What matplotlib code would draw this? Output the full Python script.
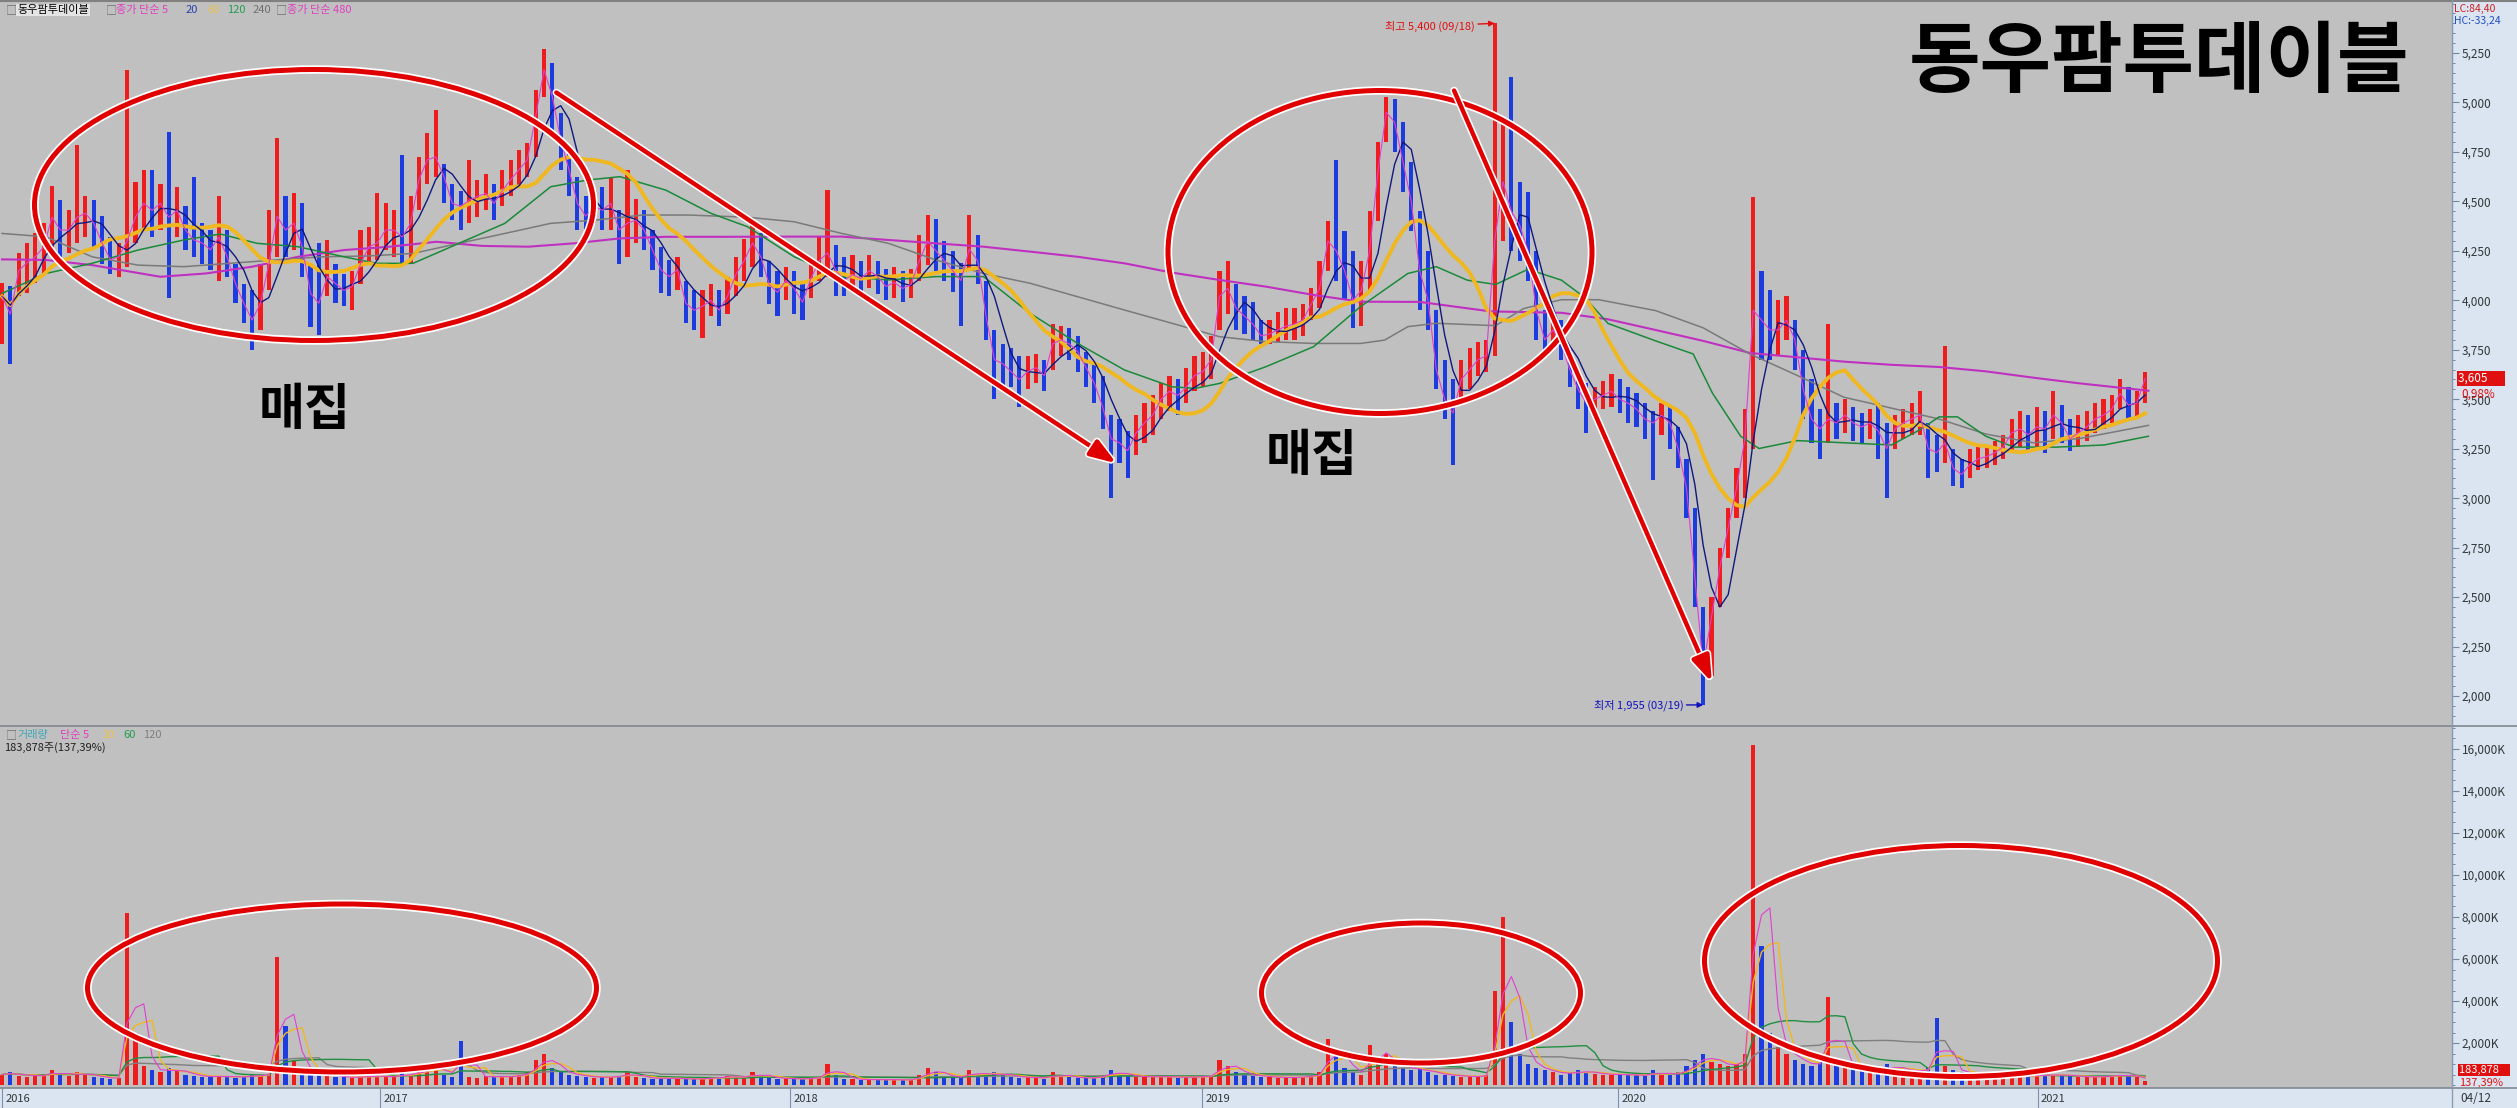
import numpy as np
import pandas as pd
import matplotlib
matplotlib.use("Agg")
import matplotlib.pyplot as plt
from matplotlib.patches import Ellipse, FancyArrowPatch, Rectangle
from matplotlib.lines import Line2D
import matplotlib.patheffects as pe
import matplotlib.transforms as mtrans
from matplotlib.ticker import MultipleLocator, FixedLocator, FuncFormatter

plt.rcParams['font.family'] = ['Noto Sans CJK KR', 'DejaVu Sans']

# ---------------- data (weekly, index = week number from start) ----------------
close = [
    4020, 3930, 4150, 4190, 4220, 4270, 4420, 4355, 4355, 4420,
    4440, 4390, 4290, 4205, 4220, 4300, 4420, 4490, 4455, 4490,
    4420, 4455, 4355, 4305, 4290, 4255, 4320, 4220, 4085, 3985,
    3900, 3985, 4185, 4425, 4355, 4390, 4270, 4035, 3985, 4120,
    4085, 4050, 4070, 4185, 4270, 4290, 4355, 4355, 4320, 4390,
    4610, 4710, 4725, 4625, 4490, 4475, 4505, 4525, 4540, 4490,
    4555, 4610, 4660, 4710, 4930, 5165, 5030, 4810, 4660, 4490,
    4425, 4475, 4455, 4490, 4355, 4390, 4405, 4355, 4255, 4155,
    4120, 4155, 3985, 3950, 3970, 4000, 3950, 4020, 4130, 4200,
    4290, 4220, 4080, 4040, 4100, 4060, 3990, 4110, 4200, 4240,
    4150, 4100, 4130, 4110, 4150, 4120, 4070, 4090, 4060, 4080,
    4200, 4300, 4250, 4200, 4150, 4100, 4260, 4200, 3920, 3700,
    3680, 3640, 3600, 3640, 3660, 3620, 3780, 3800, 3780, 3740,
    3660, 3580, 3460, 3300, 3280, 3240, 3330, 3380, 3420, 3500,
    3540, 3520, 3560, 3620, 3640, 3700, 4020, 4060, 3960, 3920,
    3880, 3820, 3830, 3850, 3870, 3880, 3900, 3980, 4060, 4300,
    4250, 4150, 4000, 4050, 4250, 4650, 4950, 4900, 4700, 4500,
    4150, 4000, 3650, 3500, 3430, 3600, 3650, 3700, 3720, 4300,
    4600, 4450, 4380, 4250, 3950, 3800, 3850, 3780, 3650, 3550,
    3480, 3500, 3520, 3540, 3500, 3480, 3450, 3400, 3380, 3420,
    3380, 3250, 3050, 2600, 2150, 2400, 2650, 2850, 3050, 3300,
    3950, 3900, 3850, 3850, 3900, 3800, 3550, 3400, 3350, 3400,
    3380, 3420, 3380, 3360, 3380, 3340, 3250, 3350, 3380, 3400,
    3420, 3250, 3230, 3280, 3150, 3120, 3170, 3200, 3210, 3230,
    3260, 3330, 3350, 3320, 3360, 3350, 3420, 3380, 3300, 3330,
    3360, 3400, 3420, 3450, 3530, 3470, 3480, 3605]
high = [
    4090, 4070, 4240, 4290, 4340, 4390, 4580, 4505, 4455, 4785,
    4525, 4505, 4425, 4320, 4290, 5165, 4600, 4660, 4660, 4590,
    4850, 4575, 4475, 4625, 4390, 4355, 4525, 4355, 4185, 4085,
    4050, 4185, 4455, 4820, 4525, 4540, 4490, 4185, 4290, 4305,
    4185, 4135, 4150, 4355, 4370, 4540, 4490, 4455, 4735, 4525,
    4725, 4845, 4960, 4690, 4590, 4555, 4710, 4610, 4640, 4590,
    4660, 4710, 4760, 4795, 5065, 5270, 5200, 4945, 4775, 4625,
    4525, 4555, 4575, 4625, 4455, 4660, 4510, 4455, 4355, 4270,
    4205, 4220, 4100, 4050, 4050, 4085, 4050, 4120, 4220, 4310,
    4390, 4340, 4200, 4150, 4170, 4150, 4090, 4200, 4320, 4560,
    4280, 4220, 4230, 4200, 4230, 4200, 4160, 4170, 4150, 4160,
    4330, 4430, 4410, 4300, 4250, 4190, 4430, 4330, 4100, 3850,
    3780, 3760, 3720, 3720, 3730, 3700, 3880, 3870, 3860, 3820,
    3740, 3680, 3620, 3420, 3400, 3340, 3420, 3480, 3520, 3580,
    3620, 3600, 3660, 3720, 3740, 3820, 4150, 4200, 4080, 4020,
    3990, 3900, 3900, 3940, 3960, 3960, 3980, 4060, 4200, 4400,
    4710, 4350, 4250, 4200, 4450, 4800, 5030, 5020, 4900, 4700,
    4450, 4250, 3950, 3700, 3600, 3700, 3760, 3790, 3800, 5400,
    4900, 5130, 4600, 4550, 4250, 3950, 3950, 3900, 3750, 3650,
    3580, 3560, 3590, 3630, 3600, 3560, 3530, 3480, 3440, 3480,
    3460, 3360, 3200, 2950, 2450, 2500, 2750, 2950, 3150, 3450,
    4520, 4150, 4050, 4000, 4020, 3900, 3750, 3600, 3450, 3880,
    3480, 3500, 3460, 3430, 3450, 3480, 3380, 3420, 3450, 3480,
    3540, 3380, 3320, 3770, 3250, 3200, 3250, 3260, 3270, 3290,
    3320, 3400, 3440, 3420, 3460, 3440, 3540, 3470, 3400, 3420,
    3440, 3480, 3500, 3520, 3600, 3560, 3540, 3640]
low = [
    3780, 3680, 4020, 4035, 4090, 4140, 4250, 4220, 4240, 4290,
    4320, 4270, 4185, 4135, 4120, 4170, 4290, 4355, 4320, 4355,
    4010, 4320, 4255, 4220, 4185, 4155, 4100, 4120, 3985, 3885,
    3750, 3850, 4050, 4220, 4220, 4255, 4120, 3865, 3825, 4020,
    3985, 3970, 3950, 4085, 4185, 4205, 4255, 4220, 4185, 4185,
    4455, 4590, 4625, 4490, 4405, 4355, 4390, 4420, 4455, 4405,
    4475, 4525, 4575, 4625, 4725, 5030, 4860, 4660, 4525, 4355,
    4340, 4390, 4355, 4355, 4185, 4220, 4290, 4255, 4155, 4035,
    4020, 4050, 3885, 3850, 3810, 3920, 3870, 3930, 4020, 4100,
    4170, 4120, 3980, 3920, 4000, 3930, 3900, 4010, 4100, 4120,
    4020, 4020, 4040, 4040, 4060, 4030, 4000, 4010, 3990, 4010,
    4100, 4180, 4150, 4100, 4040, 3870, 4150, 4080, 3800, 3500,
    3560, 3560, 3460, 3550, 3580, 3540, 3650, 3720, 3700, 3640,
    3560, 3480, 3350, 3000, 3180, 3100, 3220, 3280, 3320, 3400,
    3440, 3420, 3480, 3540, 3560, 3600, 3850, 3930, 3850, 3830,
    3800, 3780, 3780, 3790, 3800, 3800, 3820, 3900, 3960, 4150,
    4100, 4000, 3860, 3870, 4050, 4400, 4800, 4750, 4550, 4350,
    3950, 3850, 3550, 3400, 3170, 3480, 3550, 3620, 3640, 3720,
    4300, 4250, 4200, 4100, 3800, 3720, 3760, 3700, 3560, 3450,
    3330, 3430, 3450, 3460, 3430, 3380, 3360, 3300, 3090, 3320,
    3250, 3150, 2900, 2450, 1955, 2100, 2450, 2700, 2900, 3000,
    3250, 3700, 3700, 3720, 3800, 3650, 3400, 3280, 3200, 3280,
    3300, 3330, 3290, 3280, 3300, 3200, 3000, 3250, 3300, 3320,
    3320, 3100, 3130, 3180, 3060, 3050, 3100, 3140, 3150, 3170,
    3200, 3240, 3260, 3240, 3260, 3230, 3300, 3280, 3240, 3260,
    3290, 3330, 3350, 3380, 3450, 3400, 3400, 3480]
volume_k = [
    500, 600, 450, 400, 500, 450, 700, 500, 450, 600,
    500, 400, 350, 300, 350, 8200, 2500, 900, 700, 600,
    800, 700, 500, 450, 400, 380, 450, 400, 350, 420,
    480, 450, 520, 6100, 2800, 1200, 800, 500, 600, 450,
    400, 380, 350, 400, 450, 420, 380, 400, 600, 450,
    700, 800, 900, 500, 400, 2100, 400, 350, 450, 400,
    380, 420, 500, 600, 1200, 1500, 800, 600, 500, 450,
    400, 350, 380, 400, 450, 600, 380, 350, 300, 320,
    350, 300, 280, 300, 320, 350, 380, 420, 380, 350,
    600, 450, 350, 300, 320, 300, 280, 350, 400, 1000,
    500, 300, 280, 260, 250, 270, 260, 250, 240, 260,
    500, 800, 600, 400, 350, 400, 700, 500, 450, 600,
    500, 400, 350, 380, 350, 300, 600, 400, 380, 350,
    320, 350, 500, 700, 500, 450, 400, 380, 400, 420,
    380, 360, 380, 400, 420, 450, 1200, 900, 600, 500,
    450, 400, 380, 350, 360, 380, 400, 450, 600, 2200,
    1500, 800, 600, 500, 1900, 1200, 1500, 1000, 800, 700,
    800, 600, 500, 500, 450, 400, 400, 420, 500, 4500,
    8000, 3000, 1500, 1000, 800, 700, 600, 500, 600, 700,
    600, 550, 500, 500, 520, 480, 460, 450, 700, 500,
    480, 600, 900, 1200, 1500, 1100, 1000, 900, 1000, 1500,
    16200, 6600, 2500, 1800, 1500, 1200, 1000, 900, 1100, 4200,
    1100, 900, 800, 700, 650, 700, 1000, 800, 700, 650,
    700, 800, 3200, 900, 700, 600, 500, 450, 420, 400,
    380, 400, 420, 450, 500, 450, 480, 500, 420, 400,
    380, 400, 420, 450, 500, 420, 400, 184]

# long moving averages (week index, price)
ma120_x = [0, 5.3, 10.8, 16.3, 21.8, 26.2, 30.6, 35.5, 41.0, 44.9, 49.3, 54.8, 60.3, 65.8, 70.2,
           74.1, 79.6, 85.0, 89.4, 95.0, 100.7, 106.3, 112.0, 117.7, 123.3, 129.0, 134.6, 140.3,
           143.1, 146.0, 151.6, 157.3, 162.9, 168.6, 172.0, 175.7, 179.1, 183.0, 187.0, 189.8,
           192.6, 198.3, 202.8, 205.1, 208.5, 210.7, 215.3, 220.9, 226.6, 230.0, 232.3, 234.5,
           237.9, 241.3, 246.4, 252.1, 257.4]
ma120_y = [4035, 4136, 4187, 4254, 4305, 4335, 4288, 4271, 4220, 4187, 4187, 4288, 4389, 4574, 4608,
           4625, 4557, 4440, 4372, 4220, 4120, 4103, 4120, 4120, 3934, 3782, 3648, 3563,
           3555, 3580, 3665, 3766, 3968, 4136, 4170, 4102, 4080, 4157, 4102, 4014,
           3883, 3795, 3729, 3532, 3313, 3251, 3291, 3280, 3269, 3346, 3411, 3411,
           3313, 3258, 3258, 3269, 3313]
ma240_x = [0, 5.3, 10.8, 16.3, 21.8, 27.3, 32.8, 38.3, 43.8, 49.3, 54.8, 60.3, 65.8, 71.3, 76.8,
           82.3, 89.4, 95.0, 100.7, 106.3, 112.0, 117.7, 123.3, 129.0, 134.6, 140.3, 146.0, 151.6,
           157.3, 162.9, 165.8, 168.6, 172.0, 179.1, 182.5, 187.0, 191.5, 198.3, 204.0, 209.6,
           215.3, 220.9, 226.6, 232.3, 237.9, 243.6, 249.2, 257.4]
ma240_y = [4338, 4321, 4220, 4178, 4170, 4187, 4204, 4220, 4224, 4237, 4288, 4338, 4389, 4406, 4431,
           4431, 4420, 4397, 4338, 4288, 4204, 4136, 4086, 4018, 3951, 3884, 3816, 3791,
           3782, 3782, 3799, 3867, 3884, 3872, 3959, 4003, 4003, 3948, 3861, 3729,
           3620, 3510, 3455, 3400, 3324, 3280, 3302, 3368]
ma480_x = [0, 5.3, 10.8, 19.0, 24.5, 30.0, 35.5, 41.0, 46.5, 52.1, 57.6, 63.1, 68.6, 74.1, 79.6,
           86.1, 95.0, 100.7, 106.3, 112.0, 117.7, 123.3, 129.0, 134.6, 140.3, 146.0, 151.6, 157.3,
           162.9, 170.0, 178.5, 187.0, 192.6, 198.3, 204.0, 209.6, 215.3, 220.9, 226.6, 232.3,
           237.9, 243.6, 249.2, 257.4]
ma480_y = [4207, 4204, 4178, 4119, 4136, 4170, 4220, 4254, 4271, 4296, 4275, 4271, 4288, 4313, 4321,
           4321, 4322, 4322, 4305, 4288, 4271, 4246, 4220, 4187, 4140, 4103, 4069, 4027,
           3993, 3992, 3944, 3937, 3904, 3850, 3795, 3734, 3712, 3690, 3674, 3663,
           3641, 3609, 3580, 3543]

price_ticks = [2000, 2250, 2500, 2750, 3000, 3250, 3500, 3750, 4000, 4250, 4500, 4750, 5000, 5250]
volume_ticks_k = [2000, 4000, 6000, 8000, 10000, 12000, 14000, 16000]
year_pos = [0, 45.3, 94.5, 143.9, 193.8, 244.1]
year_labels = ['2016', '2017', '2018', '2019', '2020', '2021']
last_date = '04/12'
high_date, low_date = '09/18', '03/19'
title = '동우팜투데이블'
note = '매집'

# ---------------- layout ----------------
W, H = 2517, 1108
fig = plt.figure(figsize=(W / 100, H / 100), dpi=100)
fig.patch.set_facecolor('#c0c0c0')


def fx(x):
    return x / W


def fy(y):
    return 1 - y / H


BG = '#c0c0c0'
STRIP = '#dbe5f1'
RED = '#ee1c1c'
BLUE = '#1c3ce0'
XL = (-0.24, 293.8)

fig.add_artist(Rectangle((fx(2452), 0), 1 - fx(2452), 1, transform=fig.transFigure,
                         facecolor=STRIP, edgecolor='none', zorder=-5))

ax_p = fig.add_axes([0, fy(726), fx(2452), 724 / H])
ax_v = fig.add_axes([0, fy(1088), fx(2452), 361 / H])
ax_d = fig.add_axes([0, 0, fx(2452), 20 / H])

k = np.arange(len(close))
c = np.array(close, float)
hi = np.array(high, float)
lo = np.array(low, float)
vol = np.array(volume_k, float)
prev = np.r_[c[0], c[:-1]]
cols = np.where(c >= prev, RED, BLUE)

for ax in (ax_p, ax_v):
    ax.set_facecolor(BG)
    ax.set_xlim(*XL)
    ax.set_xticks([])
    for s in ('top', 'left', 'bottom'):
        ax.spines[s].set_visible(False)
    ax.spines['right'].set_color('#8a9ab0')
    ax.yaxis.tick_right()
    ax.tick_params(axis='y', which='major', direction='out', length=5, width=0.8,
                   color='#7888a0', labelsize=8.5, labelcolor='#303838', pad=2)
    ax.tick_params(axis='y', which='minor', direction='out', length=2.5, width=0.7,
                   color='#7888a0')

# ---------------- price panel ----------------
ax_p.set_ylim(1848.5, 5507.8)
ax_p.yaxis.set_major_locator(FixedLocator(price_ticks))
ax_p.yaxis.set_minor_locator(MultipleLocator(50))
ax_p.yaxis.set_major_formatter(FuncFormatter(lambda v, p: f'{int(v):,}'))

ax_p.bar(k, hi - lo, bottom=lo, width=0.5, color=cols, linewidth=0, zorder=2)

s = pd.Series(c)
ma5 = s.rolling(1).mean()
ma20 = s.rolling(4, min_periods=1).mean()
ma60 = s.rolling(12, min_periods=1).mean()
ax_p.plot(ma480_x, ma480_y, color='#c030c0', lw=1.5, zorder=3)
ax_p.plot(ma240_x, ma240_y, color='#7a7a7a', lw=1.1, zorder=3)
ax_p.plot(ma120_x, ma120_y, color='#1a8a3a', lw=1.1, zorder=3)
ax_p.plot(k, ma60, color='#f0b820', lw=2.8, zorder=3)
ax_p.plot(k, ma20, color='#101880', lw=1.0, zorder=4)
ax_p.plot(k, ma5, color='#e040d0', lw=0.8, zorder=4)

ih = int(np.argmax(hi))
il = int(np.argmin(lo))
ax_p.annotate(f'최고 {int(hi[ih]):,} ({high_date})', xy=(ih, hi[ih]), xytext=(-14, -2),
              textcoords='offset points', ha='right', va='center', color='#e01010', fontsize=8,
              arrowprops=dict(arrowstyle='-|>', color='#e01010', lw=1, shrinkA=0, shrinkB=0,
                              mutation_scale=8), zorder=6)
ax_p.annotate(f'최저 {int(lo[il]):,} ({low_date})', xy=(il, lo[il]), xytext=(-14, 0),
              textcoords='offset points', ha='right', va='center', color='#1010c0', fontsize=8,
              arrowprops=dict(arrowstyle='-|>', color='#1010c0', lw=1, shrinkA=0, shrinkB=0,
                              mutation_scale=8), zorder=6)

bt = mtrans.blended_transform_factory(ax_p.transAxes, ax_p.transData)
ax_p.text(1.0025, c[-1], f'{int(c[-1]):,}' + '      ', transform=bt, ha='left', va='center',
          color='white', fontsize=8.5, clip_on=False, zorder=8,
          bbox=dict(boxstyle='square,pad=0.12', fc='#e01010', ec='none'))
ax_p.annotate('0,98%', xy=(1.0025, c[-1]), xycoords=bt, xytext=(2, -11), textcoords='offset points',
              ha='left', va='center', color='#e01010', fontsize=8.5, annotation_clip=False, zorder=9)

# ---------------- volume panel ----------------
ax_v.set_ylim(-138, 17042)
ax_v.yaxis.set_major_locator(FixedLocator(volume_ticks_k))
ax_v.yaxis.set_minor_locator(MultipleLocator(500))
ax_v.yaxis.set_major_formatter(FuncFormatter(lambda v, p: f'{int(v):,}K'))
ax_v.bar(k, vol, width=0.5, color=cols, linewidth=0, zorder=2)
vs = pd.Series(vol)
ax_v.plot(k, vs.rolling(24, min_periods=1).mean(), color='#808080', lw=1.0, zorder=3)
ax_v.plot(k, vs.rolling(12, min_periods=1).mean(), color='#209040', lw=1.0, zorder=3)
ax_v.plot(k, vs.rolling(4, min_periods=1).mean(), color='#f0b820', lw=1.0, zorder=3)
ax_v.plot(k, vs.rolling(3, min_periods=1).mean(), color='#e040d0', lw=0.8, zorder=4)

fig.text(fx(2459), fy(1070), '183,878' + '    ', ha='left', va='center', color='white', fontsize=8,
         bbox=dict(boxstyle='square,pad=0.12', fc='#e01010', ec='none'))
fig.text(fx(2459), fy(1083), '137,39%', ha='left', va='center', color='#e01010', fontsize=8)

# ---------------- date strip ----------------
ax_d.set_facecolor(STRIP)
ax_d.set_xlim(*XL)
ax_d.set_ylim(0, 1)
ax_d.set_xticks([])
ax_d.set_yticks([])
for sp in ax_d.spines.values():
    sp.set_visible(False)
ax_d.vlines(year_pos, 0, 1, color='#8090a8', lw=0.8)
for xp, lab in zip(year_pos, year_labels):
    ax_d.text(xp + 0.4, 0.45, lab, ha='left', va='center', fontsize=8, color='#303838')
fig.text(fx(2460), fy(1098), last_date, ha='left', va='center', fontsize=8.5, color='#303838')

# separators
for yy in (726, 1088):
    fig.add_artist(Line2D([0, 1], [fy(yy), fy(yy)], transform=fig.transFigure,
                          color='#808890', lw=1.2, zorder=5))
fig.add_artist(Line2D([0, 1], [fy(0.8), fy(0.8)], transform=fig.transFigure,
                      color='#808080', lw=1.5, zorder=5))
fig.add_artist(Line2D([fx(2452), fx(2452)], [0, 1], transform=fig.transFigure,
                      color='#8a9ab0', lw=1, zorder=5))

# top-right info
fig.text(fx(2454), fy(9), 'LC:84,40', ha='left', va='center', color='#d02020', fontsize=7.5)
fig.text(fx(2454), fy(21), 'HC:-33,24', ha='left', va='center', color='#2050c0', fontsize=7.5)


# legends
def ftxt(x, y, t, col, **kw):
    fig.text(fx(x), fy(y), t, ha='left', va='center', color=col, fontsize=8, **kw)


ftxt(6, 10, '□', '#707070', zorder=9)
ftxt(17, 10, title, 'black', bbox=dict(boxstyle='square,pad=0.1', fc='#e4e4e4', ec='none'))
ftxt(106, 10, '□', '#707070')
ftxt(116, 10, '종가 단순 5', '#e040c0')
ftxt(186, 10, '20', '#2840b0')
ftxt(207, 10, '60', '#e8c050')
ftxt(227, 10, '120', '#20a050')
ftxt(253, 10, '240', '#707070')
ftxt(276, 10, '□', '#707070')
ftxt(287, 10, '종가 단순 480', '#e040c0')

ftxt(6, 735, '□', '#707070')
ftxt(17, 735, '거래량', '#40a8b8')
ftxt(60, 735, '단순 5', '#e040c0')
ftxt(103, 735, '20', '#e8c050')
ftxt(123, 735, '60', '#20a050')
ftxt(143, 735, '120', '#808080')
ftxt(4, 748, '183,878주(137,39%)', '#202020')

# ---------------- annotations ----------------
fig.text(fx(2159), fy(63), title, fontsize=56, fontweight='bold', ha='center', va='center',
         color='black', zorder=12)
fig.text(fx(305), fy(411), note, fontsize=36, fontweight='bold', ha='center', va='center',
         color='black', zorder=12)
fig.text(fx(1312), fy(456), note, fontsize=36, fontweight='bold', ha='center', va='center',
         color='black', zorder=12)


def ellipse(cx, cy, w, h):
    for lw, colr in ((8.5, 'white'), (5, '#e00000')):
        fig.add_artist(Ellipse((fx(cx), fy(cy)), w / W, h / H, transform=fig.transFigure,
                               fill=False, ec=colr, lw=lw * 0.72, zorder=10))


def arrow(x0, y0, x1, y1):
    a = FancyArrowPatch((fx(x0), fy(y0)), (fx(x1), fy(y1)), transform=fig.transFigure,
                        arrowstyle='-|>,head_length=1.3,head_width=0.45', mutation_scale=12,
                        lw=3.2, color='#e00000', zorder=11,
                        path_effects=[pe.withStroke(linewidth=5.5, foreground='white')])
    fig.add_artist(a)


ellipse(314, 205, 559, 271)
ellipse(1380, 252, 424, 323)
ellipse(342, 988, 509, 168)
ellipse(1421, 993, 319, 140)
ellipse(1961, 961, 513, 231)
arrow(554, 91, 1119, 465)
arrow(1453, 88, 1713, 685)

fig.savefig('out.png', dpi=100, facecolor=fig.get_facecolor())
